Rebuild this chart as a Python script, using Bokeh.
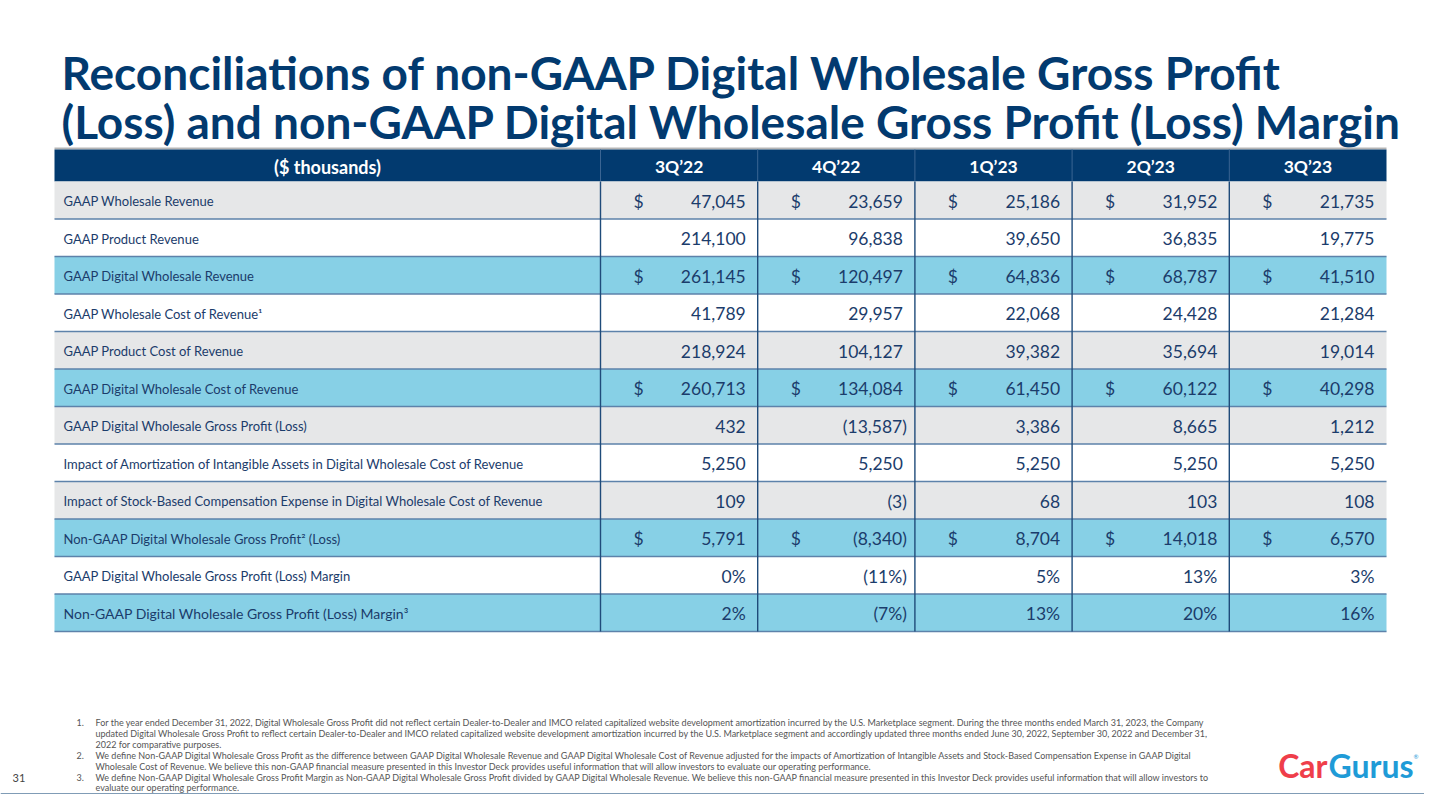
from bokeh.plotting import figure
from bokeh.models import Range1d
from bokeh.core.properties import value
from bokeh.embed import file_html
from bokeh.resources import INLINE

# ---------------- data ----------------
title_lines = ["Reconciliations of non-GAAP Digital Wholesale Gross Profit",
               "(Loss) and non-GAAP Digital Wholesale Gross Profit (Loss) Margin"]
corner_label = "($ thousands)"
periods = ["3Q\u201922", "4Q\u201922", "1Q\u201923", "2Q\u201923", "3Q\u201923"]

row_labels = [
    "GAAP Wholesale Revenue",
    "GAAP Product Revenue",
    "GAAP Digital Wholesale Revenue",
    "GAAP Wholesale Cost of Revenue\u00b9",
    "GAAP Product Cost of Revenue",
    "GAAP Digital Wholesale Cost of Revenue",
    "GAAP Digital Wholesale Gross Profit (Loss)",
    "Impact of Amortization of Intangible Assets in Digital Wholesale Cost of Revenue",
    "Impact of Stock-Based Compensation Expense in Digital Wholesale Cost of Revenue",
    "Non-GAAP Digital Wholesale Gross Profit\u00b2 (Loss)",
    "GAAP Digital Wholesale Gross Profit (Loss) Margin",
    "Non-GAAP Digital Wholesale Gross Profit (Loss) Margin\u00b3",
]
gaap_wholesale_revenue = [47045, 23659, 25186, 31952, 21735]
gaap_product_revenue = [214100, 96838, 39650, 36835, 19775]
gaap_digital_wholesale_revenue = [261145, 120497, 64836, 68787, 41510]
gaap_wholesale_cost = [41789, 29957, 22068, 24428, 21284]
gaap_product_cost = [218924, 104127, 39382, 35694, 19014]
gaap_digital_wholesale_cost = [260713, 134084, 61450, 60122, 40298]
gaap_dw_gross_profit = [432, -13587, 3386, 8665, 1212]
amortization_impact = [5250, 5250, 5250, 5250, 5250]
sbc_impact = [109, -3, 68, 103, 108]
non_gaap_dw_gross_profit = [5791, -8340, 8704, 14018, 6570]
gaap_dw_margin_pct = [0, -11, 5, 13, 3]
non_gaap_dw_margin_pct = [2, -7, 13, 20, 16]

row_values = [gaap_wholesale_revenue, gaap_product_revenue, gaap_digital_wholesale_revenue,
              gaap_wholesale_cost, gaap_product_cost, gaap_digital_wholesale_cost,
              gaap_dw_gross_profit, amortization_impact, sbc_impact,
              non_gaap_dw_gross_profit, gaap_dw_margin_pct, non_gaap_dw_margin_pct]
dollar_rows = [0, 2, 5, 9]
percent_rows = [10, 11]

footnotes = [
    ["For the year ended December 31, 2022, Digital Wholesale Gross Profit did not reflect certain Dealer-to-Dealer and IMCO related capitalized website development amortization incurred by the U.S. Marketplace segment. During the three months ended March 31, 2023, the Company",
     "updated Digital Wholesale Gross Profit to reflect certain Dealer-to-Dealer and IMCO related capitalized website development amortization incurred by the U.S. Marketplace segment and accordingly updated three months ended June 30, 2022, September 30, 2022 and December 31,",
     "2022 for comparative purposes."],
    ["We define Non-GAAP Digital Wholesale Gross Profit as the difference between GAAP Digital Wholesale Revenue and GAAP Digital Wholesale Cost of Revenue adjusted for the impacts of Amortization of Intangible Assets and Stock-Based Compensation Expense in GAAP Digital",
     "Wholesale Cost of Revenue.  We believe this non-GAAP financial measure presented in this Investor Deck provides useful information that will allow investors to evaluate our operating performance."],
    ["We define Non-GAAP Digital Wholesale Gross Profit Margin as Non-GAAP Digital Wholesale Gross Profit divided by GAAP Digital Wholesale Revenue.  We believe this non-GAAP financial measure presented in this Investor Deck provides useful information that will allow investors to",
     "evaluate our operating performance."],
]
page_number = "31"

# ---------------- styles / layout ----------------
NAVY = "#023a6f"
TXT = "#1b3c6b"
GRAY_ROW = "#e6e7e8"
BLUE_ROW = "#87d0e6"
WHITE = "#ffffff"
row_fill = [GRAY_ROW, WHITE, BLUE_ROW, WHITE, GRAY_ROW, BLUE_ROW,
            GRAY_ROW, WHITE, GRAY_ROW, BLUE_ROW, WHITE, BLUE_ROW]
FONT = value("Lato")

W, H = 1424, 794
p = figure(width=W, height=H, x_range=Range1d(0, W), y_range=Range1d(H, 0),
           output_backend="svg", toolbar_location=None, min_border=0)
p.axis.visible = False
p.grid.visible = False
p.outline_line_color = None
p.background_fill_color = WHITE
p.border_fill_color = WHITE

TX0, TX1, LX1 = 54, 1386, 600
CW = (TX1 - LX1) / len(periods)
HY0, HY1 = 149, 181
RH = 37.5
n = len(row_labels)
col_left = [LX1 + i * CW for i in range(len(periods))]
row_top = [HY1 + i * RH for i in range(n)]

# title
p.text(x=[61, 61], y=[72, 121], text=title_lines, text_font=FONT,
       text_font_style="bold", text_font_size="46px", text_color=NAVY,
       text_baseline="alphabetic", text_align="left")

# header
p.line(x=[TX0, TX1], y=[HY0 - 1, HY0 - 1], line_color="#b5b5b5", line_width=2)
p.quad(left=[TX0], right=[TX1], top=[HY0], bottom=[HY1], fill_color=NAVY, line_color=None)
p.segment(x0=col_left, x1=col_left, y0=[HY0] * len(col_left), y1=[HY1] * len(col_left),
          line_color="#3b6593", line_width=1)
p.text(x=[(TX0 + LX1) / 2], y=[(HY0 + HY1) / 2 + 1], text=[corner_label], text_font=FONT,
       text_font_style="bold", text_font_size="18px", text_color=WHITE,
       text_align="center", text_baseline="middle")
p.text(x=[c + CW / 2 for c in col_left], y=[(HY0 + HY1) / 2 + 1] * len(periods), text=periods,
       text_font=FONT, text_font_style="bold", text_font_size="17.5px", text_color=WHITE,
       text_align="center", text_baseline="middle")

# row backgrounds
p.quad(left=[TX0] * n, right=[TX1] * n, top=row_top, bottom=[t + RH for t in row_top],
       fill_color=row_fill, line_color=None)

# row separators
sep_y = [t + RH for t in row_top]
p.segment(x0=[TX0] * n, x1=[TX1] * n, y0=sep_y, y1=sep_y, line_color="#5d82aa", line_width=1.6)
# vertical separators
p.segment(x0=col_left, x1=col_left, y0=[HY1] * len(col_left), y1=[row_top[-1] + RH] * len(col_left),
          line_color="#1f4b7a", line_width=1.4)

# row labels
lab_sizes = ["13px"] * (n - 1) + ["14px"]
p.text(x=[63] * n, y=[t + RH / 2 + 1 for t in row_top], text=row_labels, text_font=FONT,
       text_font_size=lab_sizes, text_color=TXT, text_align="left", text_baseline="middle")

# values
def fmt(v, pct):
    s = f"{abs(v):,}" + ("%" if pct else "")
    return f"({s})" if v < 0 else s

vx, vy, vt, dx, dy = [], [], [], [], []
for r, vals in enumerate(row_values):
    yc = row_top[r] + RH / 2 + 1
    for c, v in enumerate(vals):
        right = col_left[c] + CW - 12
        vx.append(right + (4 if v < 0 else 0))
        vy.append(yc)
        vt.append(fmt(v, r in percent_rows))
        if r in dollar_rows:
            dx.append(col_left[c] + 38)
            dy.append(yc)
p.text(x=vx, y=vy, text=vt, text_font=FONT, text_font_size="17.5px", text_color=TXT,
       text_align="right", text_baseline="middle")
p.text(x=dx, y=dy, text=["$"] * len(dx), text_font=FONT, text_font_size="17.5px", text_color=TXT,
       text_align="center", text_baseline="middle")

# footnotes
fx, fy, ft, nx, ny, nt = [], [], [], [], [], []
yy = 722
for i, lines in enumerate(footnotes):
    nx.append(76); ny.append(yy); nt.append(f"{i + 1}.")
    for ln in lines:
        fx.append(95); fy.append(yy); ft.append(ln)
        yy += 10.9
p.text(x=fx, y=fy, text=ft, text_font=FONT, text_font_size="9px", text_color="#555555",
       text_align="left", text_baseline="middle")
p.text(x=nx, y=ny, text=nt, text_font=FONT, text_font_size="9px", text_color="#555555",
       text_align="left", text_baseline="middle")
p.text(x=[12], y=[777], text=[page_number], text_font=FONT, text_font_size="11px",
       text_color="#444444", text_align="left", text_baseline="middle")

# logo
p.text(x=[1327], y=[765], text=["Car"], text_font=FONT, text_font_style="bold",
       text_font_size="32px", text_color="#ef3e4a", text_align="right", text_baseline="middle")
p.text(x=[1328], y=[765], text=["Gurus"], text_font=FONT, text_font_style="bold",
       text_font_size="32px", text_color="#1f9bd7", text_align="left", text_baseline="middle")
p.text(x=[1413], y=[756], text=["\u00ae"], text_font=FONT, text_font_size="6px",
       text_color="#1f9bd7", text_align="left", text_baseline="middle")

# bottom bar (as much as the page allows)
p.quad(left=[0], right=[W], top=[793], bottom=[H], fill_color=NAVY, line_color=None)

open("out.html", "w").write(file_html(p, INLINE))
